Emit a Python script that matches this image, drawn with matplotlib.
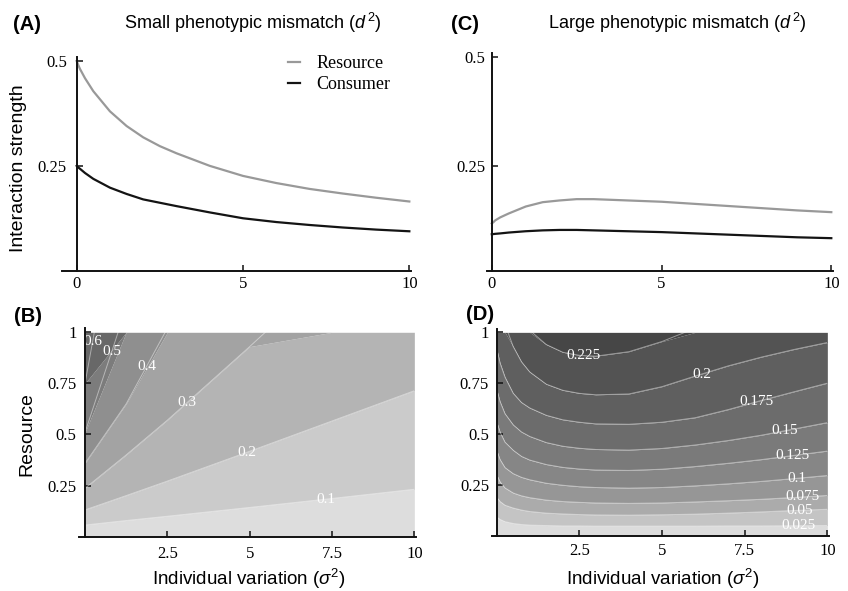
import numpy as np
import matplotlib
matplotlib.use("Agg")
import matplotlib.pyplot as plt
from matplotlib.patches import Rectangle

# --- data ---

# top panels: interaction strength vs individual variation
sigma = [0, 0.05, 0.1, 0.25, 0.5, 1, 1.5, 2, 2.5, 3, 4, 5, 6, 7, 8, 9, 10]
small_resource = [0.5, 0.49, 0.481, 0.459, 0.428, 0.38, 0.345, 0.318, 0.297, 0.28, 0.25,
                  0.226, 0.209, 0.195, 0.184, 0.174, 0.165]
small_consumer = [0.25, 0.246, 0.243, 0.233, 0.219, 0.198, 0.183, 0.17, 0.162, 0.154, 0.139,
                  0.125, 0.116, 0.109, 0.103, 0.098, 0.094]
large_resource = [0.117, 0.12, 0.124, 0.131, 0.14, 0.156, 0.166, 0.17, 0.173, 0.173, 0.17,
                  0.167, 0.162, 0.157, 0.152, 0.147, 0.143]
large_consumer = [0.092, 0.0925, 0.093, 0.094, 0.096, 0.099, 0.101, 0.102, 0.102, 0.101, 0.099,
                  0.097, 0.094, 0.091, 0.088, 0.085, 0.083]

# panel B: contour lines (resource value at each sigma), one list per level
b_sigma = [0, 1.25, 2.5, 5, 7.5, 10]
b_levels = ["0.1", "0.2", "0.3", "0.4", "0.5", "0.6"]
b_lines = [
    [0.057, 0.079, 0.100, 0.143, 0.187, 0.232],
    [0.131, 0.201, 0.272, 0.418, 0.566, 0.714],
    [0.237, 0.40, 0.57, 0.93, 1.30, 1.68],
    [0.359, 0.65, 1.02, 1.75, 2.5, 3.2],
    [0.51, 1.12, 1.73, 2.95, 4.2, 5.4],
    [0.75, 1.86, 2.97, 5.2, 7.4, 9.6],
]
b_label_x = [7.32, 4.91, 3.09, 1.87, 0.81, 0.23]

# panel D
d_sigma = [0, 0.1, 0.25, 0.5, 0.75, 1, 1.5, 2, 2.5, 3, 4, 5, 6, 7, 8, 9, 10]
d_levels = ["0.025", "0.05", "0.075", "0.1", "0.125", "0.15", "0.175", "0.2", "0.225"]
d_lines = [
    [0.093, 0.080, 0.069, 0.060, 0.055, 0.052, 0.050, 0.048, 0.048, 0.047, 0.047, 0.047, 0.047, 0.048, 0.048, 0.049, 0.050],
    [0.19, 0.168, 0.150, 0.136, 0.126, 0.119, 0.111, 0.107, 0.104, 0.102, 0.101, 0.103, 0.106, 0.111, 0.117, 0.124, 0.130],
    [0.30, 0.265, 0.235, 0.210, 0.196, 0.187, 0.175, 0.168, 0.164, 0.161, 0.159, 0.161, 0.166, 0.172, 0.179, 0.188, 0.198],
    [0.42, 0.375, 0.335, 0.305, 0.287, 0.275, 0.258, 0.248, 0.241, 0.237, 0.234, 0.237, 0.245, 0.255, 0.267, 0.281, 0.296],
    [0.56, 0.51, 0.46, 0.42, 0.39, 0.372, 0.350, 0.336, 0.328, 0.323, 0.321, 0.327, 0.340, 0.356, 0.374, 0.395, 0.416],
    [0.72, 0.66, 0.60, 0.545, 0.51, 0.488, 0.458, 0.440, 0.430, 0.424, 0.421, 0.429, 0.446, 0.468, 0.494, 0.525, 0.556],
    [0.92, 0.85, 0.78, 0.70, 0.655, 0.628, 0.592, 0.570, 0.558, 0.550, 0.548, 0.558, 0.580, 0.620, 0.665, 0.708, 0.750],
    [1.25, 1.13, 1.04, 0.93, 0.855, 0.805, 0.745, 0.715, 0.70, 0.693, 0.697, 0.733, 0.785, 0.835, 0.878, 0.916, 0.95],
    [1.8, 1.6, 1.4, 1.2, 1.09, 1.01, 0.94, 0.902, 0.887, 0.883, 0.905, 0.955, 1.02, 1.08, 1.14, 1.2, 1.26],
]
d_label_x = [9.14, 9.17, 9.24, 9.07, 8.94, 8.72, 7.87, 6.2, 2.62]

top_xticks = [0, 5, 10]
top_yticks = [0.25, 0.5]
top_yticklabels = ["0.25", "0.5"]
bot_xticks = [2.5, 5, 7.5, 10]
bot_xticklabels = ["2.5", "5", "7.5", "10"]
bot_yticks = [0.25, 0.5, 0.75, 1]
bot_yticklabels = ["0.25", "0.5", "0.75", "1"]

b_colors = ["#dddddd", "#cbcbcb", "#b4b4b4", "#a3a3a3", "#8f8f8f", "#7c7c7c", "#686868"]
d_colors = ["#dcdcdc", "#c4c4c4", "#ababab", "#969696", "#868686", "#7a7a7a",
            "#6c6c6c", "#5f5f5f", "#535353", "#464646"]

plt.rcParams["font.family"] = "Liberation Sans"
plt.rcParams["mathtext.fontset"] = "custom"
plt.rcParams["mathtext.rm"] = "Liberation Sans"
plt.rcParams["mathtext.it"] = "Liberation Sans:italic"

W, H = 848, 591
SERIF = "Liberation Serif"
fig = plt.figure(figsize=(W / 100, H / 100), dpi=100)


def px_axes(left, top, right, bottom):
    return fig.add_axes([left / W, 1 - bottom / H, (right - left) / W, (bottom - top) / H])


def ftext(x, y, s, **kw):
    fig.text(x / W, 1 - y / H, s, ha="center", va="center", **kw)


def style(ax, ypad, xpad):
    ax.spines["top"].set_visible(False)
    ax.spines["right"].set_visible(False)
    ax.spines["left"].set_position(("data", 0))
    for s in ["left", "bottom"]:
        ax.spines[s].set_linewidth(1.4)
        ax.spines[s].set_color("#111111")
        ax.spines[s].set_zorder(5)
    ax.tick_params(direction="in", length=4, width=1.1, color="#111111", labelsize=12)
    ax.tick_params(axis="y", pad=ypad)
    ax.tick_params(axis="x", pad=xpad)
    for lab in ax.get_xticklabels() + ax.get_yticklabels():
        lab.set_fontfamily(SERIF)


# ---- (A) and (C) ----
ax_a = px_axes(61.7, 56.8, 411, 270.7)
ax_c = px_axes(486.7, 53, 833, 270.7)
for ax, res, con, x0, y0, ypad in [(ax_a, small_resource, small_consumer, -0.45, 0, 7),
                                  (ax_c, large_resource, large_consumer, -0.15, 0.008, 4.5)]:
    ax.plot(sigma, res, color="#999999", lw=1.6, label="Resource")
    ax.plot(sigma, con, color="#141414", lw=1.6, label="Consumer")
    ax.set_xlim(x0, 10.05)
    ax.set_ylim(y0, 0.51)
    ax.set_xticks(top_xticks)
    ax.set_xticklabels([str(t) for t in top_xticks])
    ax.set_yticks(top_yticks)
    ax.set_yticklabels(top_yticklabels)
    style(ax, ypad, 4)

ax_a.legend(loc="upper left", bbox_to_anchor=(0.6, 1.085), frameon=False, handlelength=0.7,
            handletextpad=0.9, labelspacing=0.25, prop={"family": SERIF, "size": 13})


# ---- (B) and (D) ----
def contour_panel(ax, xs, lines, levels, colors, label_x, xlim0, ylim1, ypad, xpad):
    xs = np.array(xs)
    bounds = [np.zeros(len(xs))] + [np.array(l) for l in lines] + [np.full(len(xs), 5.0)]
    for i, c in enumerate(colors):
        ax.fill_between(xs, np.clip(bounds[i], 0, 1), np.clip(bounds[i + 1], 0, 1),
                        color=c, lw=0, zorder=1)
    clip = Rectangle((0, 0), 10, 1, transform=ax.transData)
    for l, lev, lx in zip(lines, levels, label_x):
        ln, = ax.plot(xs, l, color="white", lw=0.7, alpha=0.45, zorder=2)
        ln.set_clip_path(clip)
        ax.text(lx, np.interp(lx, xs, l), lev, color="white", fontfamily=SERIF,
                fontsize=11, ha="center", va="center", zorder=3)
    ax.set_xlim(xlim0, 10.05)
    ax.set_ylim(0, ylim1)
    ax.set_xticks(bot_xticks)
    ax.set_xticklabels(bot_xticklabels)
    ax.set_yticks(bot_yticks)
    ax.set_yticklabels(bot_yticklabels)
    style(ax, ypad, xpad)


ax_b = px_axes(79.1, 328.2, 416, 536.7)
contour_panel(ax_b, b_sigma, b_lines, b_levels, b_colors, b_label_x, -0.18, 1.02, 6, 6.5)
ax_d = px_axes(492.4, 329.3, 829, 535.7)
contour_panel(ax_d, d_sigma, d_lines, d_levels, d_colors, d_label_x, -0.13, 1.015, 5.5, 5.5)

# ---- texts ----
ftext(252.5, 23.3, r"Small phenotypic mismatch ($d^{\,2}$)", fontsize=13)
ftext(677, 23.3, r"Large phenotypic mismatch ($d^{\,2}$)", fontsize=13)
ftext(27.2, 25, "(A)", fontsize=14.5, fontweight="bold")
ftext(464.8, 25, "(C)", fontsize=14.5, fontweight="bold")
ftext(28.3, 316.7, "(B)", fontsize=14.5, fontweight="bold")
ftext(480.5, 315, "(D)", fontsize=14.5, fontweight="bold")
ftext(18.3, 168.3, "Interaction strength", fontsize=14, rotation=90)
ftext(26.7, 433.7, "Resource", fontsize=14, rotation=90)
ftext(249, 578.5, r"Individual variation ($\sigma^2$)", fontsize=13.5)
ftext(663, 578.5, r"Individual variation ($\sigma^2$)", fontsize=13.5)

fig.savefig("out.png", dpi=100)
